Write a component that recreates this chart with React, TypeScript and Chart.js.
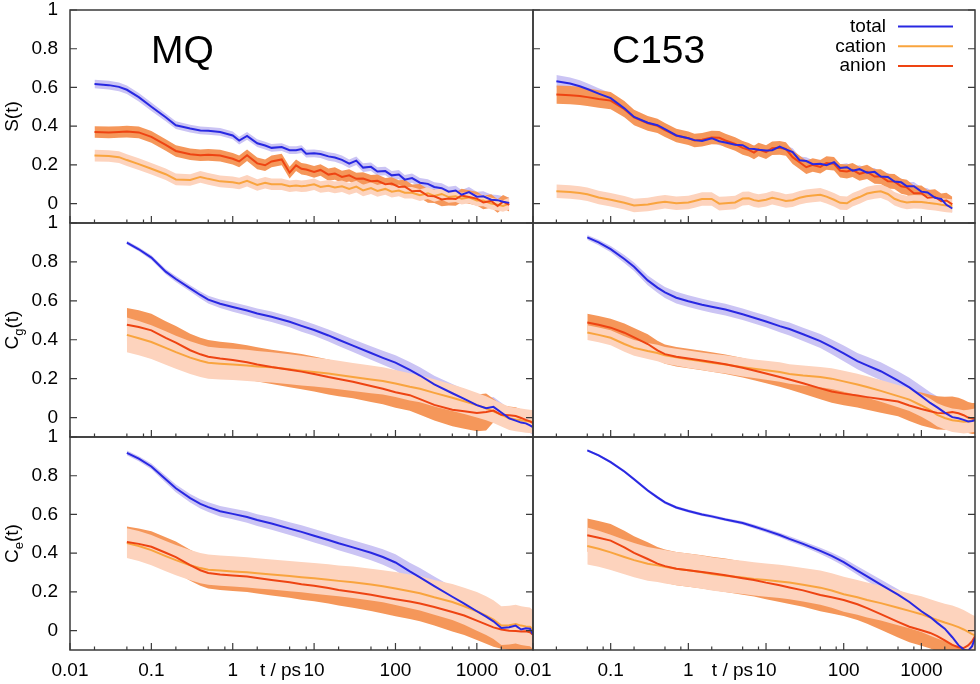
import React, { useEffect, useRef } from 'react';
import { Chart, registerables } from 'chart.js';

Chart.register(...registerables);

// ---------------- data ----------------
const X_MAJOR = [0.01, 0.1, 1, 10, 100, 1000];
const X_MAJOR_LABELS = ['0.01', '0.1', '1', '10', '100', '1000'];
const X_MINOR = [0.02, 0.05, 0.08, 0.2, 0.5, 0.8, 2, 5, 8, 20, 50, 80, 200, 500, 800, 2000];
const Y_TICKS = [0, 0.2, 0.4, 0.6, 0.8, 1];
const Y_TICK_LABELS = ['0', '0.2', '0.4', '0.6', '0.8', '1'];
const X_MIN = 0.01;
const X_MAX = 4900;
const Y_MIN = -0.1;
const Y_MAX = 1;

const SERIES_NAMES = ['total', 'cation', 'anion'];
const SYSTEM_NAMES = ['MQ', 'C153'];
const X_TITLE = 't / ps';

// time grid of the S(t) row
const T_S = [0.02, 0.03, 0.04, 0.05, 0.07, 0.1, 0.15, 0.2, 0.3, 0.4, 0.5, 0.7, 1, 1.2, 1.5, 2, 2.5, 3, 4, 5, 6, 7, 8, 10, 12, 15, 18, 22, 27, 33, 40, 50, 60, 75, 90, 110, 130, 160, 200, 250, 300, 370, 450, 550, 650, 800, 1000, 1200, 1500, 1800, 2100, 2500];
// time grid of the C_g(t) and C_e(t) rows
const T_C = [0.05, 0.07, 0.1, 0.15, 0.2, 0.3, 0.4, 0.5, 0.7, 1, 1.5, 2, 3, 5, 7, 10, 15, 20, 30, 50, 70, 100, 150, 200, 300, 500, 700, 1000, 1300, 1600, 2000, 2500, 3000, 3500, 4000, 4500, 4900];

// S(t), MQ
const S_MQ_total = [0.618, 0.612, 0.603, 0.588, 0.55, 0.5, 0.446, 0.405, 0.388, 0.378, 0.376, 0.37, 0.352, 0.326, 0.35, 0.312, 0.3, 0.288, 0.292, 0.276, 0.276, 0.282, 0.258, 0.26, 0.256, 0.244, 0.238, 0.226, 0.206, 0.222, 0.186, 0.19, 0.166, 0.168, 0.146, 0.15, 0.124, 0.132, 0.108, 0.102, 0.086, 0.08, 0.062, 0.068, 0.046, 0.06, 0.036, 0.038, 0.02, 0.018, 0.01, 0.004];
const S_MQ_total_err = [0.022, 0.022, 0.022, 0.022, 0.022, 0.022, 0.02, 0.02, 0.02, 0.02, 0.02, 0.02, 0.02, 0.02, 0.02, 0.02, 0.02, 0.02, 0.02, 0.02, 0.02, 0.02, 0.02, 0.02, 0.02, 0.022, 0.022, 0.022, 0.022, 0.022, 0.022, 0.022, 0.022, 0.022, 0.022, 0.024, 0.024, 0.024, 0.024, 0.024, 0.025, 0.025, 0.025, 0.025, 0.025, 0.026, 0.026, 0.026, 0.027, 0.027, 0.028, 0.028];
const S_MQ_cation = [0.248, 0.246, 0.24, 0.225, 0.204, 0.18, 0.152, 0.125, 0.122, 0.138, 0.128, 0.115, 0.11, 0.104, 0.118, 0.096, 0.108, 0.1, 0.1, 0.09, 0.094, 0.09, 0.092, 0.1, 0.086, 0.092, 0.084, 0.09, 0.076, 0.088, 0.068, 0.08, 0.066, 0.076, 0.062, 0.068, 0.056, 0.056, 0.044, 0.054, 0.04, 0.05, 0.034, 0.038, 0.026, 0.032, 0.016, 0.016, 0.0, -0.006, -0.012, 0.0];
const S_MQ_cation_err = [0.03, 0.03, 0.03, 0.03, 0.03, 0.03, 0.03, 0.03, 0.03, 0.03, 0.03, 0.03, 0.03, 0.03, 0.03, 0.03, 0.03, 0.03, 0.03, 0.03, 0.03, 0.03, 0.03, 0.03, 0.03, 0.03, 0.03, 0.03, 0.03, 0.03, 0.03, 0.03, 0.03, 0.03, 0.03, 0.03, 0.03, 0.03, 0.03, 0.03, 0.03, 0.03, 0.03, 0.03, 0.03, 0.03, 0.03, 0.03, 0.03, 0.03, 0.03, 0.03];
const S_MQ_anion = [0.37, 0.368, 0.37, 0.372, 0.368, 0.345, 0.303, 0.272, 0.255, 0.25, 0.252, 0.248, 0.232, 0.218, 0.25, 0.208, 0.198, 0.218, 0.228, 0.16, 0.198, 0.18, 0.176, 0.164, 0.174, 0.15, 0.156, 0.138, 0.146, 0.128, 0.13, 0.116, 0.118, 0.1, 0.104, 0.086, 0.088, 0.064, 0.066, 0.04, 0.038, 0.022, 0.026, 0.024, 0.042, 0.034, 0.026, 0.006, 0.014, -0.012, 0.01, -0.006];
const S_MQ_anion_err = [0.03, 0.03, 0.03, 0.03, 0.03, 0.03, 0.03, 0.03, 0.03, 0.03, 0.03, 0.03, 0.03, 0.03, 0.03, 0.03, 0.03, 0.03, 0.03, 0.03, 0.03, 0.03, 0.03, 0.03, 0.03, 0.032, 0.032, 0.032, 0.032, 0.032, 0.032, 0.032, 0.032, 0.032, 0.032, 0.035, 0.035, 0.035, 0.035, 0.035, 0.035, 0.035, 0.035, 0.035, 0.035, 0.035, 0.035, 0.035, 0.035, 0.035, 0.035, 0.035];

// S(t), C153
const S_C153_total = [0.632, 0.62, 0.606, 0.592, 0.568, 0.545, 0.492, 0.448, 0.418, 0.405, 0.385, 0.352, 0.338, 0.328, 0.324, 0.338, 0.322, 0.316, 0.304, 0.302, 0.284, 0.282, 0.278, 0.274, 0.276, 0.294, 0.28, 0.266, 0.224, 0.22, 0.204, 0.206, 0.198, 0.214, 0.184, 0.188, 0.17, 0.178, 0.16, 0.164, 0.14, 0.138, 0.114, 0.11, 0.09, 0.09, 0.062, 0.058, 0.03, 0.024, -0.006, -0.025];
const S_C153_total_err = [0.032, 0.032, 0.031, 0.03, 0.028, 0.026, 0.024, 0.022, 0.02, 0.02, 0.02, 0.02, 0.02, 0.02, 0.02, 0.02, 0.02, 0.02, 0.02, 0.02, 0.02, 0.02, 0.02, 0.02, 0.02, 0.02, 0.02, 0.02, 0.02, 0.02, 0.02, 0.02, 0.02, 0.02, 0.02, 0.02, 0.02, 0.02, 0.02, 0.02, 0.02, 0.02, 0.02, 0.02, 0.02, 0.022, 0.022, 0.022, 0.022, 0.022, 0.022, 0.022];
const S_C153_cation = [0.064, 0.06, 0.055, 0.048, 0.032, 0.02, 0.005, -0.01, -0.004, 0.004, 0.01, 0.002, 0.006, 0.014, 0.024, 0.024, 0.0, 0.002, 0.006, 0.026, 0.028, 0.018, 0.014, 0.02, 0.03, 0.022, 0.014, 0.018, 0.03, 0.038, 0.042, 0.046, 0.036, 0.02, 0.004, 0.002, 0.02, 0.034, 0.052, 0.06, 0.064, 0.05, 0.025, 0.012, 0.006, 0.01, 0.008, 0.004, 0.0, -0.006, -0.01, -0.012];
const S_C153_cation_err = [0.035, 0.035, 0.035, 0.035, 0.035, 0.035, 0.035, 0.035, 0.035, 0.035, 0.035, 0.035, 0.035, 0.035, 0.035, 0.035, 0.035, 0.035, 0.035, 0.035, 0.035, 0.035, 0.035, 0.035, 0.035, 0.035, 0.035, 0.035, 0.035, 0.035, 0.035, 0.035, 0.035, 0.035, 0.035, 0.035, 0.035, 0.035, 0.035, 0.035, 0.035, 0.035, 0.035, 0.035, 0.035, 0.035, 0.035, 0.035, 0.035, 0.035, 0.035, 0.035];
const S_C153_anion = [0.563, 0.56, 0.556, 0.55, 0.54, 0.532, 0.488, 0.445, 0.415, 0.402, 0.38, 0.352, 0.338, 0.326, 0.33, 0.342, 0.34, 0.326, 0.308, 0.288, 0.278, 0.264, 0.28, 0.266, 0.286, 0.288, 0.282, 0.24, 0.214, 0.188, 0.2, 0.19, 0.21, 0.206, 0.17, 0.166, 0.174, 0.154, 0.164, 0.14, 0.14, 0.116, 0.114, 0.09, 0.084, 0.054, 0.054, 0.03, 0.034, 0.012, 0.016, -0.004];
const S_C153_anion_err = [0.047, 0.047, 0.047, 0.046, 0.045, 0.044, 0.042, 0.04, 0.038, 0.037, 0.036, 0.035, 0.035, 0.035, 0.035, 0.035, 0.035, 0.035, 0.035, 0.035, 0.035, 0.035, 0.035, 0.035, 0.035, 0.035, 0.035, 0.035, 0.035, 0.035, 0.035, 0.035, 0.035, 0.035, 0.035, 0.036, 0.036, 0.036, 0.037, 0.037, 0.038, 0.038, 0.039, 0.039, 0.04, 0.04, 0.04, 0.04, 0.04, 0.04, 0.04, 0.04];

// C_g(t), MQ
const Cg_MQ_total = [0.899, 0.865, 0.822, 0.75, 0.712, 0.664, 0.63, 0.606, 0.585, 0.568, 0.55, 0.535, 0.518, 0.492, 0.471, 0.45, 0.422, 0.4, 0.37, 0.332, 0.307, 0.282, 0.245, 0.216, 0.17, 0.125, 0.096, 0.064, 0.048, 0.055, 0.026, -0.004, -0.016, -0.026, -0.03, -0.04, -0.05];
const Cg_MQ_total_err = [0.01, 0.01, 0.012, 0.014, 0.015, 0.016, 0.018, 0.02, 0.022, 0.024, 0.025, 0.026, 0.027, 0.028, 0.03, 0.03, 0.031, 0.032, 0.033, 0.035, 0.036, 0.038, 0.04, 0.042, 0.045, 0.048, 0.05, 0.05, 0.05, 0.05, 0.05, 0.048, 0.045, 0.045, 0.042, 0.04, 0.04];
const Cg_MQ_cation = [0.425, 0.408, 0.388, 0.358, 0.336, 0.308, 0.292, 0.282, 0.277, 0.273, 0.268, 0.263, 0.258, 0.248, 0.241, 0.234, 0.226, 0.219, 0.208, 0.196, 0.188, 0.175, 0.158, 0.148, 0.127, 0.102, 0.084, 0.064, 0.048, 0.032, 0.014, -0.004, -0.01, -0.014, -0.018, -0.02, -0.022];
const Cg_MQ_cation_err = [0.089, 0.088, 0.087, 0.086, 0.085, 0.084, 0.083, 0.082, 0.081, 0.08, 0.08, 0.079, 0.078, 0.077, 0.076, 0.075, 0.074, 0.073, 0.072, 0.071, 0.07, 0.07, 0.07, 0.07, 0.07, 0.068, 0.066, 0.064, 0.062, 0.06, 0.06, 0.06, 0.06, 0.06, 0.06, 0.06, 0.06];
const Cg_MQ_anion = [0.477, 0.465, 0.448, 0.41, 0.385, 0.346, 0.325, 0.313, 0.304, 0.296, 0.284, 0.273, 0.26, 0.246, 0.236, 0.224, 0.208, 0.198, 0.184, 0.162, 0.148, 0.13, 0.115, 0.095, 0.065, 0.04, 0.032, 0.024, 0.028, 0.036, 0.014, 0.012, 0.008, -0.002, -0.012, -0.02, -0.028];
const Cg_MQ_anion_err = [0.086, 0.086, 0.085, 0.085, 0.085, 0.085, 0.085, 0.085, 0.086, 0.087, 0.088, 0.088, 0.088, 0.09, 0.09, 0.09, 0.09, 0.088, 0.085, 0.082, 0.08, 0.08, 0.08, 0.08, 0.08, 0.085, 0.09, 0.094, 0.095, 0.06, 0.05, 0.045, 0.045, 0.045, 0.045, 0.045, 0.045];

// C_g(t), C153
const Cg_C153_total = [0.926, 0.9, 0.866, 0.815, 0.775, 0.705, 0.668, 0.643, 0.616, 0.598, 0.58, 0.569, 0.555, 0.531, 0.513, 0.494, 0.47, 0.455, 0.428, 0.393, 0.363, 0.33, 0.29, 0.268, 0.238, 0.19, 0.155, 0.11, 0.075, 0.052, 0.025, 0.002, -0.004, -0.012, -0.02, -0.018, -0.013];
const Cg_C153_total_err = [0.012, 0.014, 0.016, 0.02, 0.022, 0.025, 0.027, 0.028, 0.03, 0.03, 0.03, 0.03, 0.03, 0.03, 0.03, 0.03, 0.032, 0.033, 0.034, 0.036, 0.038, 0.04, 0.042, 0.044, 0.046, 0.048, 0.05, 0.052, 0.055, 0.058, 0.06, 0.06, 0.06, 0.06, 0.06, 0.06, 0.06];
const Cg_C153_cation = [0.437, 0.425, 0.41, 0.378, 0.358, 0.342, 0.332, 0.32, 0.31, 0.3, 0.289, 0.282, 0.273, 0.259, 0.251, 0.243, 0.234, 0.224, 0.216, 0.208, 0.2, 0.186, 0.17, 0.157, 0.137, 0.11, 0.092, 0.062, 0.038, 0.014, -0.002, -0.014, -0.018, -0.022, -0.02, -0.016, -0.013];
const Cg_C153_cation_err = [0.038, 0.038, 0.039, 0.04, 0.04, 0.041, 0.042, 0.043, 0.044, 0.045, 0.045, 0.046, 0.047, 0.048, 0.048, 0.049, 0.05, 0.05, 0.051, 0.052, 0.053, 0.054, 0.055, 0.055, 0.056, 0.057, 0.058, 0.058, 0.059, 0.06, 0.06, 0.06, 0.06, 0.06, 0.06, 0.06, 0.06];
const Cg_C153_anion = [0.489, 0.477, 0.462, 0.436, 0.412, 0.378, 0.345, 0.326, 0.312, 0.304, 0.293, 0.285, 0.274, 0.256, 0.242, 0.226, 0.208, 0.196, 0.176, 0.15, 0.134, 0.123, 0.113, 0.105, 0.095, 0.082, 0.062, 0.044, 0.032, 0.024, 0.022, 0.028, 0.022, 0.012, 0.0, -0.005, -0.005];
const Cg_C153_anion_err = [0.045, 0.045, 0.046, 0.047, 0.048, 0.05, 0.05, 0.05, 0.05, 0.05, 0.05, 0.05, 0.05, 0.05, 0.05, 0.05, 0.05, 0.052, 0.054, 0.056, 0.058, 0.06, 0.062, 0.065, 0.07, 0.075, 0.08, 0.085, 0.085, 0.085, 0.085, 0.08, 0.08, 0.08, 0.08, 0.08, 0.08];

// C_e(t), MQ
const Ce_MQ_total = [0.918, 0.888, 0.848, 0.782, 0.735, 0.684, 0.655, 0.638, 0.617, 0.603, 0.587, 0.571, 0.553, 0.527, 0.51, 0.49, 0.468, 0.451, 0.43, 0.402, 0.38, 0.352, 0.306, 0.275, 0.23, 0.175, 0.14, 0.1, 0.072, 0.048, 0.014, 0.018, 0.026, 0.006, 0.012, 0.01, -0.02];
const Ce_MQ_total_err = [0.012, 0.013, 0.015, 0.018, 0.02, 0.022, 0.024, 0.025, 0.027, 0.028, 0.03, 0.03, 0.032, 0.033, 0.034, 0.035, 0.035, 0.036, 0.037, 0.038, 0.04, 0.042, 0.045, 0.048, 0.05, 0.052, 0.05, 0.048, 0.045, 0.04, 0.035, 0.03, 0.03, 0.03, 0.03, 0.03, 0.03];
const Ce_MQ_cation = [0.452, 0.437, 0.416, 0.385, 0.364, 0.338, 0.323, 0.315, 0.31, 0.306, 0.301, 0.296, 0.29, 0.282, 0.276, 0.27, 0.263, 0.257, 0.25, 0.238, 0.229, 0.218, 0.203, 0.193, 0.172, 0.148, 0.126, 0.1, 0.078, 0.057, 0.026, 0.028, 0.034, 0.026, 0.022, 0.02, 0.005];
const Ce_MQ_cation_err = [0.077, 0.077, 0.078, 0.078, 0.078, 0.078, 0.078, 0.078, 0.078, 0.078, 0.078, 0.078, 0.078, 0.078, 0.078, 0.079, 0.08, 0.08, 0.081, 0.082, 0.083, 0.085, 0.087, 0.089, 0.09, 0.093, 0.096, 0.1, 0.1, 0.1, 0.1, 0.1, 0.1, 0.1, 0.1, 0.1, 0.1];
const Ce_MQ_anion = [0.458, 0.448, 0.433, 0.402, 0.38, 0.338, 0.312, 0.298, 0.29, 0.285, 0.279, 0.272, 0.262, 0.25, 0.24, 0.232, 0.22, 0.21, 0.2, 0.185, 0.174, 0.162, 0.15, 0.14, 0.122, 0.096, 0.078, 0.052, 0.032, 0.017, 0.006, 0.0, -0.002, -0.004, -0.003, -0.008, -0.021];
const Ce_MQ_anion_err = [0.08, 0.08, 0.08, 0.08, 0.08, 0.08, 0.08, 0.08, 0.08, 0.08, 0.08, 0.08, 0.08, 0.08, 0.08, 0.08, 0.08, 0.08, 0.082, 0.084, 0.086, 0.088, 0.09, 0.092, 0.095, 0.1, 0.1, 0.1, 0.1, 0.1, 0.1, 0.1, 0.1, 0.1, 0.1, 0.1, 0.1];

// C_e(t), C153
const Ce_C153_total = [0.931, 0.905, 0.87, 0.822, 0.782, 0.724, 0.688, 0.662, 0.636, 0.618, 0.6, 0.59, 0.574, 0.556, 0.538, 0.518, 0.494, 0.474, 0.448, 0.412, 0.386, 0.354, 0.31, 0.28, 0.238, 0.186, 0.148, 0.1, 0.07, 0.04, 0.01, -0.034, -0.075, -0.098, -0.104, -0.08, -0.038];
const Ce_C153_total_err = [0.006, 0.006, 0.007, 0.007, 0.008, 0.008, 0.008, 0.008, 0.008, 0.008, 0.008, 0.008, 0.008, 0.009, 0.01, 0.011, 0.012, 0.013, 0.014, 0.016, 0.018, 0.02, 0.022, 0.024, 0.026, 0.028, 0.03, 0.032, 0.034, 0.035, 0.035, 0.035, 0.035, 0.035, 0.035, 0.035, 0.035];
const Ce_C153_cation = [0.437, 0.423, 0.404, 0.38, 0.364, 0.345, 0.337, 0.33, 0.32, 0.312, 0.302, 0.293, 0.284, 0.275, 0.267, 0.261, 0.254, 0.248, 0.237, 0.222, 0.207, 0.188, 0.172, 0.158, 0.142, 0.118, 0.102, 0.085, 0.068, 0.055, 0.042, 0.03, 0.018, 0.006, -0.006, -0.018, -0.024];
const Ce_C153_cation_err = [0.095, 0.093, 0.091, 0.089, 0.088, 0.087, 0.086, 0.086, 0.086, 0.086, 0.086, 0.086, 0.086, 0.086, 0.086, 0.086, 0.086, 0.086, 0.087, 0.088, 0.089, 0.09, 0.09, 0.09, 0.09, 0.09, 0.09, 0.092, 0.094, 0.095, 0.097, 0.1, 0.1, 0.1, 0.1, 0.1, 0.1];
const Ce_C153_anion = [0.493, 0.48, 0.465, 0.43, 0.402, 0.37, 0.346, 0.333, 0.32, 0.312, 0.303, 0.296, 0.286, 0.271, 0.262, 0.248, 0.234, 0.223, 0.208, 0.184, 0.172, 0.158, 0.136, 0.116, 0.085, 0.045, 0.02, 0.002, -0.012, -0.028, -0.05, -0.074, -0.086, -0.09, -0.076, -0.055, -0.029];
const Ce_C153_anion_err = [0.086, 0.086, 0.086, 0.086, 0.086, 0.086, 0.086, 0.086, 0.086, 0.086, 0.086, 0.086, 0.086, 0.086, 0.086, 0.086, 0.086, 0.086, 0.085, 0.084, 0.083, 0.082, 0.081, 0.08, 0.08, 0.08, 0.08, 0.08, 0.08, 0.08, 0.08, 0.08, 0.08, 0.08, 0.08, 0.08, 0.08];

// ---------------- layout & style ----------------
const W = 980;
const H = 684;
const COLS = [
  [70, 533],
  [533, 975],
];
const ROWS = [
  [10, 223],
  [223, 437],
  [437, 650],
];
const FONT = '"Liberation Sans", Arial, Helvetica, sans-serif';
const FRAME = '#3a3a3a';
const STYLE: Record<string, { line: string; band: string }> = {
  total: { line: '#2828e2', band: '#cbc4f4' },
  cation: { line: '#f9a43e', band: '#fdd3bd' },
  anion: { line: '#ee4412', band: '#f5975a' },
};

type Series = { t: number[]; v: number[]; e: number[] };
type Panel = {
  row: number;
  col: number;
  yTitle: { text: string; sub?: boolean }[];
  total: Series;
  cation: Series;
  anion: Series;
  tickL: boolean;
  tickR: boolean;
};

const ser = (t: number[], v: number[], e: number[]): Series => ({ t, v, e });

const PANELS: Panel[] = [
  { row: 0, col: 0, yTitle: [{ text: 'S(t)' }], total: ser(T_S, S_MQ_total, S_MQ_total_err), cation: ser(T_S, S_MQ_cation, S_MQ_cation_err), anion: ser(T_S, S_MQ_anion, S_MQ_anion_err), tickL: true, tickR: false },
  { row: 0, col: 1, yTitle: [], total: ser(T_S, S_C153_total, S_C153_total_err), cation: ser(T_S, S_C153_cation, S_C153_cation_err), anion: ser(T_S, S_C153_anion, S_C153_anion_err), tickL: true, tickR: true },
  { row: 1, col: 0, yTitle: [{ text: 'C' }, { text: 'g', sub: true }, { text: '(t)' }], total: ser(T_C, Cg_MQ_total, Cg_MQ_total_err), cation: ser(T_C, Cg_MQ_cation, Cg_MQ_cation_err), anion: ser(T_C, Cg_MQ_anion, Cg_MQ_anion_err), tickL: true, tickR: true },
  { row: 1, col: 1, yTitle: [], total: ser(T_C, Cg_C153_total, Cg_C153_total_err), cation: ser(T_C, Cg_C153_cation, Cg_C153_cation_err), anion: ser(T_C, Cg_C153_anion, Cg_C153_anion_err), tickL: false, tickR: true },
  { row: 2, col: 0, yTitle: [{ text: 'C' }, { text: 'e', sub: true }, { text: '(t)' }], total: ser(T_C, Ce_MQ_total, Ce_MQ_total_err), cation: ser(T_C, Ce_MQ_cation, Ce_MQ_cation_err), anion: ser(T_C, Ce_MQ_anion, Ce_MQ_anion_err), tickL: true, tickR: true },
  { row: 2, col: 1, yTitle: [], total: ser(T_C, Ce_C153_total, Ce_C153_total_err), cation: ser(T_C, Ce_C153_cation, Ce_C153_cation_err), anion: ser(T_C, Ce_C153_anion, Ce_C153_anion_err), tickL: false, tickR: true },
];

function decorPlugin(p: Panel) {
  return {
    id: 'decor' + p.row + p.col,
    afterDatasetsDraw(chart: any) {
      const { ctx, chartArea: a, scales } = chart;
      const xs = scales.x;
      const ys = scales.y;
      ctx.save();
      ctx.strokeStyle = FRAME;
      ctx.lineWidth = 1.2;
      ctx.beginPath();
      xs.ticks.forEach((tk: any) => {
        const px = xs.getPixelForValue(tk.value);
        const len = X_MAJOR.includes(tk.value) ? 7 : 3.5;
        ctx.moveTo(px, a.bottom);
        ctx.lineTo(px, a.bottom - len);
      });
      ys.ticks.forEach((tk: any) => {
        const py = ys.getPixelForValue(tk.value);
        if (p.tickL) {
          ctx.moveTo(a.left, py);
          ctx.lineTo(a.left + 7, py);
        }
        if (p.tickR) {
          ctx.moveTo(a.right, py);
          ctx.lineTo(a.right - 7, py);
        }
      });
      ctx.stroke();
      ctx.lineWidth = 1.5;
      ctx.strokeRect(a.left, a.top, a.right - a.left, a.bottom - a.top);
      ctx.restore();
    },
    afterDraw(chart: any) {
      const { ctx, chartArea: a, scales } = chart;
      ctx.save();
      ctx.fillStyle = '#000';
      // system name
      if (p.row === 0) {
        ctx.font = '39px ' + FONT;
        ctx.textAlign = 'left';
        ctx.textBaseline = 'alphabetic';
        ctx.fillText(SYSTEM_NAMES[p.col], a.left + (p.col === 0 ? 81 : 79), 63);
      }
      // legend
      if (p.row === 0 && p.col === 1) {
        SERIES_NAMES.forEach((n, i) => {
          const y = 26.5 + i * 19.8;
          ctx.font = '19px ' + FONT;
          ctx.textAlign = 'right';
          ctx.textBaseline = 'middle';
          ctx.fillStyle = '#000';
          ctx.fillText(n, 886, y);
          ctx.strokeStyle = STYLE[n].line;
          ctx.lineWidth = 2;
          ctx.beginPath();
          ctx.moveTo(898, y);
          ctx.lineTo(953, y);
          ctx.stroke();
        });
      }
      // y title
      if (p.yTitle.length) {
        ctx.translate(18, (a.top + a.bottom) / 2);
        ctx.rotate(-Math.PI / 2);
        ctx.textAlign = 'left';
        ctx.textBaseline = 'alphabetic';
        let w = 0;
        p.yTitle.forEach((pt) => {
          ctx.font = (pt.sub ? '13px ' : '19px ') + FONT;
          w += ctx.measureText(pt.text).width;
        });
        let x = -w / 2;
        p.yTitle.forEach((pt) => {
          ctx.font = (pt.sub ? '13px ' : '19px ') + FONT;
          ctx.fillText(pt.text, x, pt.sub ? 5 : 0);
          x += ctx.measureText(pt.text).width;
        });
        ctx.setTransform(1, 0, 0, 1, 0, 0);
      }
      // x title
      if (p.row === 2) {
        const xs = scales.x;
        ctx.font = '19px ' + FONT;
        ctx.textAlign = 'right';
        ctx.textBaseline = 'middle';
        ctx.fillText(X_TITLE, xs.getPixelForValue(10) - 13, a.bottom + 20.4);
      }
      ctx.restore();
    },
  };
}

function buildConfig(p: Panel): any {
  const [x0, x1] = COLS[p.col];
  const [y0, y1] = ROWS[p.row];
  const datasets: any[] = [];
  const addBand = (s: Series, color: string, order: number) => {
    datasets.push({
      data: s.t.map((t, i) => ({ x: t, y: s.v[i] + s.e[i] })),
      borderWidth: 0,
      borderColor: 'rgba(0,0,0,0)',
      backgroundColor: color,
      pointRadius: 0,
      fill: '+1',
      order,
    });
    datasets.push({
      data: s.t.map((t, i) => ({ x: t, y: s.v[i] - s.e[i] })),
      borderWidth: 0,
      borderColor: 'rgba(0,0,0,0)',
      backgroundColor: 'rgba(0,0,0,0)',
      pointRadius: 0,
      fill: false,
      order,
    });
  };
  const addLine = (s: Series, color: string, order: number) => {
    datasets.push({
      data: s.t.map((t, i) => ({ x: t, y: s.v[i] })),
      borderColor: color,
      borderWidth: 2,
      pointRadius: 0,
      fill: false,
      order,
    });
  };
  addBand(p.total, STYLE.total.band, 10);
  addBand(p.anion, STYLE.anion.band, 9);
  addBand(p.cation, STYLE.cation.band, 8);
  addLine(p.cation, STYLE.cation.line, 3);
  addLine(p.anion, STYLE.anion.line, 2);
  addLine(p.total, STYLE.total.line, 1);

  const isBottom = p.row === 2;
  const isLeft = p.col === 0;
  const yAxisW = isLeft ? x0 : 0;
  const xAxisH = isBottom ? H - y1 : 0;
  return {
    type: 'line',
    data: { datasets },
    options: {
      animation: false,
      responsive: false,
      maintainAspectRatio: false,
      events: [],
      layout: { padding: { left: x0 - yAxisW, right: W - x1, top: y0, bottom: H - y1 - xAxisH } },
      elements: { line: { tension: 0 } },
      plugins: { legend: { display: false }, tooltip: { enabled: false }, title: { display: false } },
      scales: {
        x: {
          type: 'logarithmic',
          position: 'bottom',
          min: X_MIN,
          max: X_MAX,
          afterBuildTicks: (s: any) => {
            s.ticks = [...X_MAJOR, ...X_MINOR].sort((a, b) => a - b).map((v) => ({ value: v, major: X_MAJOR.includes(v) }));
          },
          afterFit: (s: any) => {
            s.height = xAxisH;
            s.paddingLeft = 0;
            s.paddingRight = 0;
            s.paddingTop = 0;
            s.paddingBottom = 0;
          },
          grid: { display: false, drawTicks: false },
          border: { display: false },
          ticks: {
            display: isBottom,
            autoSkip: false,
            maxRotation: 0,
            minRotation: 0,
            padding: 9,
            color: '#000',
            font: { family: FONT, size: 19, lineHeight: 1.2 },
            callback: (v: number) => {
              const i = X_MAJOR.indexOf(v);
              return i >= 0 ? X_MAJOR_LABELS[i] : '';
            },
          },
        },
        y: {
          type: 'linear',
          position: 'left',
          min: Y_MIN,
          max: Y_MAX,
          afterBuildTicks: (s: any) => {
            s.ticks = Y_TICKS.map((v) => ({ value: v }));
          },
          afterFit: (s: any) => {
            s.width = yAxisW;
            s.paddingLeft = 0;
            s.paddingRight = 0;
            s.paddingTop = 0;
            s.paddingBottom = 0;
          },
          grid: { display: false, drawTicks: false },
          border: { display: false },
          ticks: {
            display: isLeft,
            autoSkip: false,
            padding: 12,
            color: '#000',
            font: { family: FONT, size: 19, lineHeight: 1 },
            callback: (v: number) => {
              const i = Y_TICKS.findIndex((t) => Math.abs(t - v) < 1e-9);
              return i >= 0 ? Y_TICK_LABELS[i] : '';
            },
          },
        },
      },
    },
    plugins: [decorPlugin(p)],
  };
}

export default function App() {
  const refs = useRef<(HTMLCanvasElement | null)[]>([]);
  useEffect(() => {
    const charts = PANELS.map((p, i) => {
      const c = refs.current[i];
      return c ? new Chart(c, buildConfig(p)) : null;
    });
    return () => {
      charts.forEach((c) => c && c.destroy());
    };
  }, []);
  return (
    <div style={{ position: 'absolute', left: 0, top: 0, width: W, height: H, background: '#fff', overflow: 'hidden' }}>
      {PANELS.map((p, i) => (
        <canvas
          key={i}
          ref={(el) => {
            refs.current[i] = el;
          }}
          width={W}
          height={H}
          style={{ position: 'absolute', left: 0, top: 0, width: W, height: H }}
        />
      ))}
    </div>
  );
}
